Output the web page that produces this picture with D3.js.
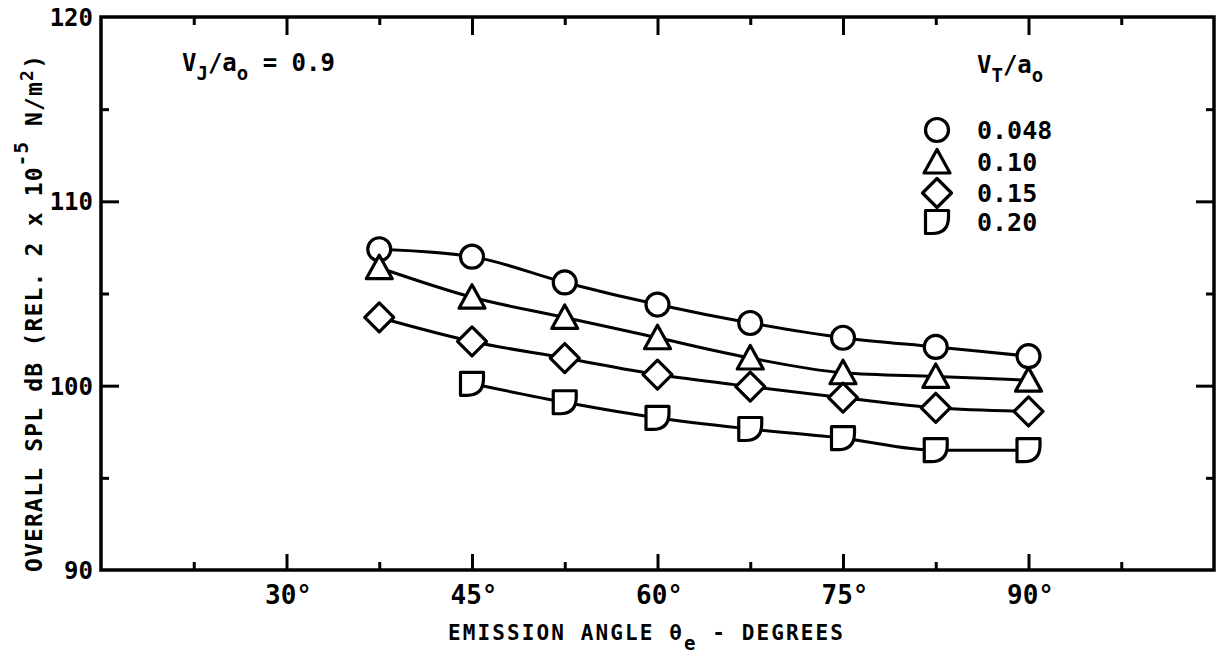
<!DOCTYPE html>
<html>
<head>
<meta charset="utf-8">
<script src="https://cdn.jsdelivr.net/npm/d3@7"></script>
<style>
body { margin: 0; background: #fff; }
text { font-family: "DejaVu Sans Mono", monospace; fill: #000; font-weight: bold; }
</style>
</head>
<body>
<div id="chart"></div>
<script>
// emission angle (deg) and overall SPL (dB) for each tip speed ratio
var angles = [37.5, 45, 52.5, 60, 67.5, 75, 82.5, 90];
var spl048 = [107.4, 107.0, 105.6, 104.4, 103.4, 102.6, 102.1, 101.6];
var spl010 = [106.4, 104.8, 103.7, 102.6, 101.5, 100.7, 100.5, 100.3];
var spl015 = [103.7, 102.4, 101.5, 100.6, 99.95, 99.35, 98.8, 98.6];
var spl020 = [null, 100.1, 99.1, 98.25, 97.65, 97.15, 96.5, 96.5];

var seriesNames = ["0.048", "0.10", "0.15", "0.20"];
var seriesShapes = ["circle", "triangle", "diamond", "quarter"];

var xMajor = [30, 45, 60, 75, 90];
var xMinor = [22.5, 37.5, 52.5, 67.5, 82.5, 97.5];
var yLabels = [90, 100, 110, 120];
var yMajor = [100, 110];
var yMinor = [95, 105, 115];

var W = 1219, H = 659;
var margin = {top: 17, right: 5, bottom: 89, left: 101};
var width = W - margin.left - margin.right,
    height = H - margin.top - margin.bottom;

var svg = d3.select("#chart").append("svg")
    .attr("width", W)
    .attr("height", H);

var g = svg.append("g")
    .attr("transform", "translate(" + margin.left + "," + margin.top + ")");

var x = d3.scaleLinear().domain([15, 105]).range([0, width]);
var y = d3.scaleLinear().domain([90, 120]).range([height, 0]);

// ticks pointing inward on all four sides
function tickStyle(sel, w) {
    sel.select(".domain").remove();
    sel.selectAll(".tick line").attr("stroke", "#000").attr("stroke-width", w);
    sel.selectAll(".tick text").remove();
}
g.append("g").attr("transform", "translate(0," + height + ")")
    .call(d3.axisBottom(x).tickValues(xMajor).tickSize(-16)).call(tickStyle, 3);
g.append("g").attr("transform", "translate(0," + height + ")")
    .call(d3.axisBottom(x).tickValues(xMinor).tickSize(-8)).call(tickStyle, 3);
g.append("g")
    .call(d3.axisTop(x).tickValues(xMajor).tickSize(-18)).call(tickStyle, 3);
g.append("g")
    .call(d3.axisTop(x).tickValues(xMinor).tickSize(-8)).call(tickStyle, 3);
g.append("g")
    .call(d3.axisLeft(y).tickValues(yMajor).tickSize(-18)).call(tickStyle, 3);
g.append("g")
    .call(d3.axisLeft(y).tickValues(yMinor).tickSize(-8)).call(tickStyle, 3);
g.append("g").attr("transform", "translate(" + width + ",0)")
    .call(d3.axisRight(y).tickValues(yMajor).tickSize(-18)).call(tickStyle, 3);
g.append("g").attr("transform", "translate(" + width + ",0)")
    .call(d3.axisRight(y).tickValues(yMinor).tickSize(-8)).call(tickStyle, 3);

g.append("rect")
    .attr("width", width).attr("height", height)
    .attr("fill", "none").attr("stroke", "#000").attr("stroke-width", 3.5);

// tick labels
g.selectAll(".xlab").data(xMajor).enter().append("text")
    .attr("class", "xlab")
    .attr("x", function (d) { return x(d) + 2; })
    .attr("y", height + 34)
    .attr("text-anchor", "middle")
    .style("font-size", "26px")
    .text(function (d) { return d + "°"; });

g.selectAll(".ylab").data(yLabels).enter().append("text")
    .attr("class", "ylab")
    .attr("x", -8)
    .attr("y", function (d) { return y(d) + 9; })
    .attr("text-anchor", "end")
    .style("font-size", "24px")
    .text(function (d) { return d; });

// axis titles
var xt = svg.append("text")
    .attr("x", 448).attr("y", 640)
    .attr("textLength", 395)
    .attr("lengthAdjust", "spacing")
    .style("font-size", "21px");
xt.append("tspan").text("EMISSION ANGLE θ");
xt.append("tspan").attr("dy", 10).style("font-size", "19px").text("e");
xt.append("tspan").attr("dy", -10).text(" - DEGREES");

var yt = svg.append("text")
    .attr("transform", "translate(42,572) rotate(-90)")
    .attr("textLength", 517)
    .attr("lengthAdjust", "spacing")
    .style("font-size", "23px");
yt.append("tspan").text("OVERALL SPL dB (REL. 2 x 10");
yt.append("tspan").attr("dy", -14).style("font-size", "19px").text("-5");
yt.append("tspan").attr("dy", 14).text(" N/m");
yt.append("tspan").attr("dy", -9).style("font-size", "18px").text("2");
yt.append("tspan").attr("dy", 9).text(")");

// annotation
var ann = svg.append("text")
    .attr("x", 182).attr("y", 71)
    .style("font-size", "24px");
ann.append("tspan").text("V");
ann.append("tspan").attr("dy", 9).style("font-size", "19px").text("J");
ann.append("tspan").attr("dy", -9).text("/a");
ann.append("tspan").attr("dy", 9).style("font-size", "19px").text("o");
ann.append("tspan").attr("dy", -9).text(" = 0.9");

// marker shapes
function shapePath(type) {
    if (type === "circle") {
        return "M11.5,0A11.5,11.5 0 1,1 -11.5,0A11.5,11.5 0 1,1 11.5,0Z";
    }
    if (type === "triangle") {
        return "M0,-12.5L13,11L-13,11Z";
    }
    if (type === "diamond") {
        return "M0,-14.5L14.5,0L0,14.5L-14.5,0Z";
    }
    // flat top and left, rounded lower right
    return "M-11.5,-11.5H11.5V-5Q11.5,11.5 -5,11.5H-11.5Z";
}

var allSeries = [spl048, spl010, spl015, spl020].map(function (vals, i) {
    return {
        name: seriesNames[i],
        shape: seriesShapes[i],
        points: angles.map(function (a, j) { return {a: a, v: vals[j]}; })
            .filter(function (p) { return p.v !== null; })
    };
});

var line = d3.line()
    .x(function (d) { return x(d.a); })
    .y(function (d) { return y(d.v); })
    .curve(d3.curveMonotoneX);

g.selectAll(".curve").data(allSeries).enter().append("path")
    .attr("class", "curve")
    .attr("d", function (d) { return line(d.points); })
    .attr("fill", "none")
    .attr("stroke", "#000")
    .attr("stroke-width", 3);

allSeries.forEach(function (s) {
    g.selectAll(".m-" + s.shape).data(s.points).enter().append("path")
        .attr("class", "m-" + s.shape)
        .attr("transform", function (d) { return "translate(" + x(d.a) + "," + y(d.v) + ")"; })
        .attr("d", shapePath(s.shape))
        .attr("fill", "#fff")
        .attr("stroke", "#000")
        .attr("stroke-width", 3.2)
        .attr("stroke-linejoin", "round");
});

// legend
var lh = svg.append("text")
    .attr("x", 977).attr("y", 73)
    .style("font-size", "24px");
lh.append("tspan").text("V");
lh.append("tspan").attr("dy", 9).style("font-size", "19px").text("T");
lh.append("tspan").attr("dy", -9).text("/a");
lh.append("tspan").attr("dy", 9).style("font-size", "19px").text("o");

var legendY = [130, 162, 193, 222];
var leg = svg.selectAll(".leg").data(allSeries).enter().append("g")
    .attr("class", "leg")
    .attr("transform", function (d, i) { return "translate(937," + legendY[i] + ")"; });
leg.append("path")
    .attr("d", function (d) { return shapePath(d.shape); })
    .attr("fill", "#fff")
    .attr("stroke", "#000")
    .attr("stroke-width", 3.2)
    .attr("stroke-linejoin", "round");
leg.append("text")
    .attr("x", 40).attr("y", 9)
    .style("font-size", "25px")
    .text(function (d) { return d.name; });
</script>
</body>
</html>
